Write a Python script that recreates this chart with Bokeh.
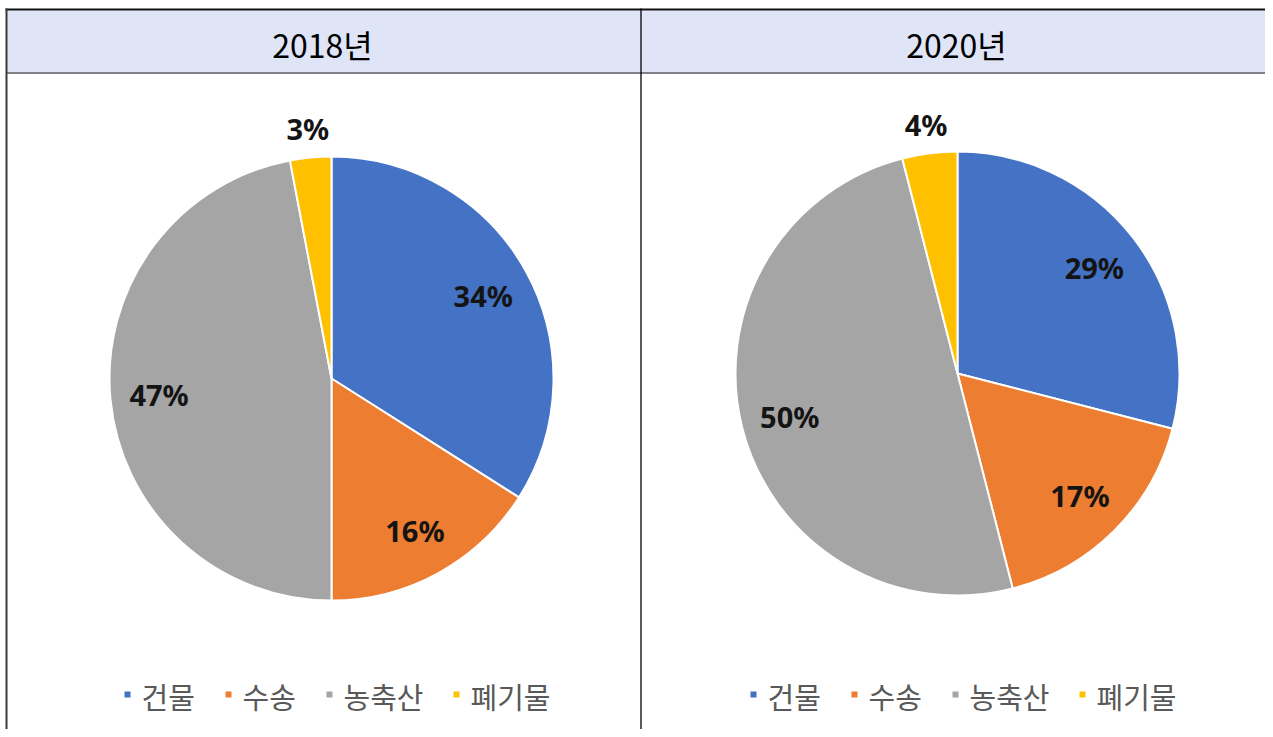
import math
from bokeh.plotting import figure
from bokeh.models import Range1d, ColumnDataSource
from bokeh.core.properties import value
from bokeh.embed import file_html
from bokeh.resources import INLINE

# ---- data ----
categories = ["건물", "수송", "농축산", "폐기물"]
colors = ["#4472C4", "#ED7D31", "#A5A5A5", "#FFC000"]
years = ["2018년", "2020년"]
shares_2018 = [34, 16, 47, 3]
shares_2020 = [29, 17, 50, 4]
series = [shares_2018, shares_2020]

# ---- layout (picture pixels) ----
W, H = 1265, 729


def Y(py):
    return H - py


p = figure(width=W, height=H, x_range=Range1d(0, W), y_range=Range1d(0, H),
           output_backend="svg", toolbar_location=None, min_border=0)
p.axis.visible = False
p.grid.visible = False
p.outline_line_color = None
p.background_fill_color = "white"
p.border_fill_color = "white"

# table frame
p.quad(left=[6], right=[W], top=[Y(10)], bottom=[Y(72)], fill_color="#DFE5F6", line_color=None)
p.segment(x0=[5], y0=[Y(9)], x1=[W], y1=[Y(9)], line_color="#111111", line_width=2)
p.segment(x0=[6], y0=[Y(72.5)], x1=[W], y1=[Y(72.5)], line_color="#7F8088", line_width=2)
p.segment(x0=[6], y0=[Y(8)], x1=[6], y1=[Y(740)], line_color="#3a3a3a", line_width=2)
p.segment(x0=[640.5], y0=[Y(8)], x1=[640.5], y1=[Y(740)], line_color="#000000", line_width=1.3)

cell_cx = [322, 956]
pie_cx = [331, 957]
pie_cy = [378, 373]
R = 222

# titles
p.text(x=cell_cx, y=[Y(43)] * 2, text=years, text_align="center", text_baseline="middle",
       text_font=value("Noto Sans CJK KR"), text_font_size="32px", text_color="#000000",
       text_font_style="normal")

for k, shares in enumerate(series):
    total = float(sum(shares))
    cum = [0.0]
    for s in shares:
        cum.append(cum[-1] + s / total)
    cx, cy = pie_cx[k], Y(pie_cy[k])
    starts = [math.pi / 2 - 2 * math.pi * cum[i + 1] for i in range(len(shares))]
    ends = [math.pi / 2 - 2 * math.pi * cum[i] for i in range(len(shares))]
    src = ColumnDataSource(dict(start=starts, end=ends, color=colors))
    p.wedge(x=cx, y=cy, radius=R, start_angle="start", end_angle="end", direction="anticlock",
            fill_color="color", line_color="white", line_width=2, source=src)
    lx, ly, lt = [], [], []
    for i, s in enumerate(shares):
        mid = (cum[i] + cum[i + 1]) / 2
        th = math.pi / 2 - 2 * math.pi * mid
        r = 0.78 * R if s >= 5 else R + 29
        lx.append(cx + r * math.cos(th))
        ly.append(cy + r * math.sin(th))
        lt.append(f"{s}%")
    p.text(x=lx, y=ly, text=lt, text_align="center", text_baseline="middle",
           text_font=value("Noto Sans"), text_font_style="bold", text_font_size="29px",
           text_color="#141414")

    # legend
    char_w = 26
    sq_gap = 17
    item_gap = 32
    widths = [sq_gap + char_w * len(c) for c in categories]
    total_w = sum(widths) + item_gap * (len(categories) - 1)
    x = pie_cx[k] + 5 - total_w / 2
    sqx, tx = [], []
    for i, c in enumerate(categories):
        sqx.append(x + 3)
        tx.append(x + sq_gap)
        x += widths[i] + item_gap
    p.rect(x=sqx, y=[Y(694)] * 4, width=6, height=6, fill_color=colors, line_color=None)
    p.text(x=tx, y=[Y(695)] * 4, text=categories, text_align="left", text_baseline="middle",
           text_font=value("Noto Sans CJK KR"), text_font_size="29px", text_color="#595959")

open("out.html", "w").write(file_html(p, INLINE))
